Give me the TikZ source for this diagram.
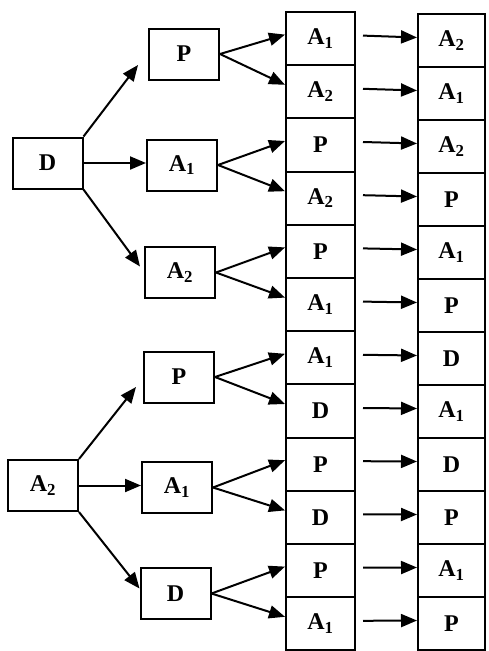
\documentclass[tikz,border=0pt]{standalone}
\usepackage{fontspec}
\setmainfont{Liberation Serif}
\usetikzlibrary{arrows.meta}
\begin{document}
\begin{tikzpicture}[x=1pt,y=1pt,
  lbl/.style={font=\fontsize{24}{27}\selectfont\bfseries},
  box/.style={draw,line width=2pt,minimum width=70pt,minimum height=51pt,inner sep=0pt,lbl},
  cellA/.style={draw,line width=2pt,minimum width=69pt,minimum height=53.2pt,inner sep=0pt,lbl},
  cellB/.style={draw,line width=2pt,minimum width=67pt,minimum height=53pt,inner sep=0pt,lbl},
  arr/.style={line width=2pt,-{Triangle[length=16pt,width=13pt]}}]
\useasboundingbox (0,0) rectangle (489,-651);
% roots
\node[box] (D) at (47.5,-163) {D};
\node[box] (A2r) at (43,-485.5) {A\textsubscript{2}};
% second level
\node[box] (s0) at (184,-54) {P};
\node[box] (s1) at (182,-165) {A\textsubscript{1}};
\node[box] (s2) at (180,-272.5) {A\textsubscript{2}};
\node[box] (s3) at (179,-377) {P};
\node[box] (s4) at (177,-487.5) {A\textsubscript{1}};
\node[box] (s5) at (175.5,-593.5) {D};
% third column
\foreach \t [count=\i from 0] in {A\textsubscript{1},A\textsubscript{2},P,A\textsubscript{2},P,A\textsubscript{1},A\textsubscript{1},D,P,D,P,A\textsubscript{1}}{
  \pgfmathsetmacro\yy{-(12+53.2*(\i+0.5))}
  \node[cellA] (c\i) at (320.5,\yy) {\t};
}
% fourth column
\foreach \t [count=\i from 0] in {A\textsubscript{2},A\textsubscript{1},A\textsubscript{2},P,A\textsubscript{1},P,D,A\textsubscript{1},D,P,A\textsubscript{1},P}{
  \pgfmathsetmacro\yy{-(14+53*(\i+0.5))}
  \node[cellB] (d\i) at (451.5,\yy) {\t};
}
% root arrows
\draw[arr] (D.north east) -- ([xshift=-10pt,yshift=-11pt]s0.west);
\draw[arr] (D.east) -- (D.east -| s1.west);
\draw[arr] (D.south east) -- ([xshift=-4pt,yshift=6pt]s2.west);
\draw[arr] (A2r.north east) -- ([xshift=-7pt,yshift=-10pt]s3.west);
\draw[arr] (A2r.east) -- (A2r.east -| s4.west);
\draw[arr] (A2r.south east) -- ([yshift=5pt]s5.west);
% second to third
\foreach \k in {0,...,5}{
  \pgfmathtruncatemacro\u{2*\k}
  \pgfmathtruncatemacro\l{2*\k+1}
  \draw[arr] (s\k.east) -- ([yshift=4pt]c\u.west);
  \draw[arr] (s\k.east) -- ([yshift=7pt]c\l.west);
}
% third to fourth
\foreach \i in {0,...,11}{
  \draw[arr] ([xshift=7pt,yshift=3pt]c\i.east) -- ([yshift=3pt]d\i.west);
}
\end{tikzpicture}
\end{document}
